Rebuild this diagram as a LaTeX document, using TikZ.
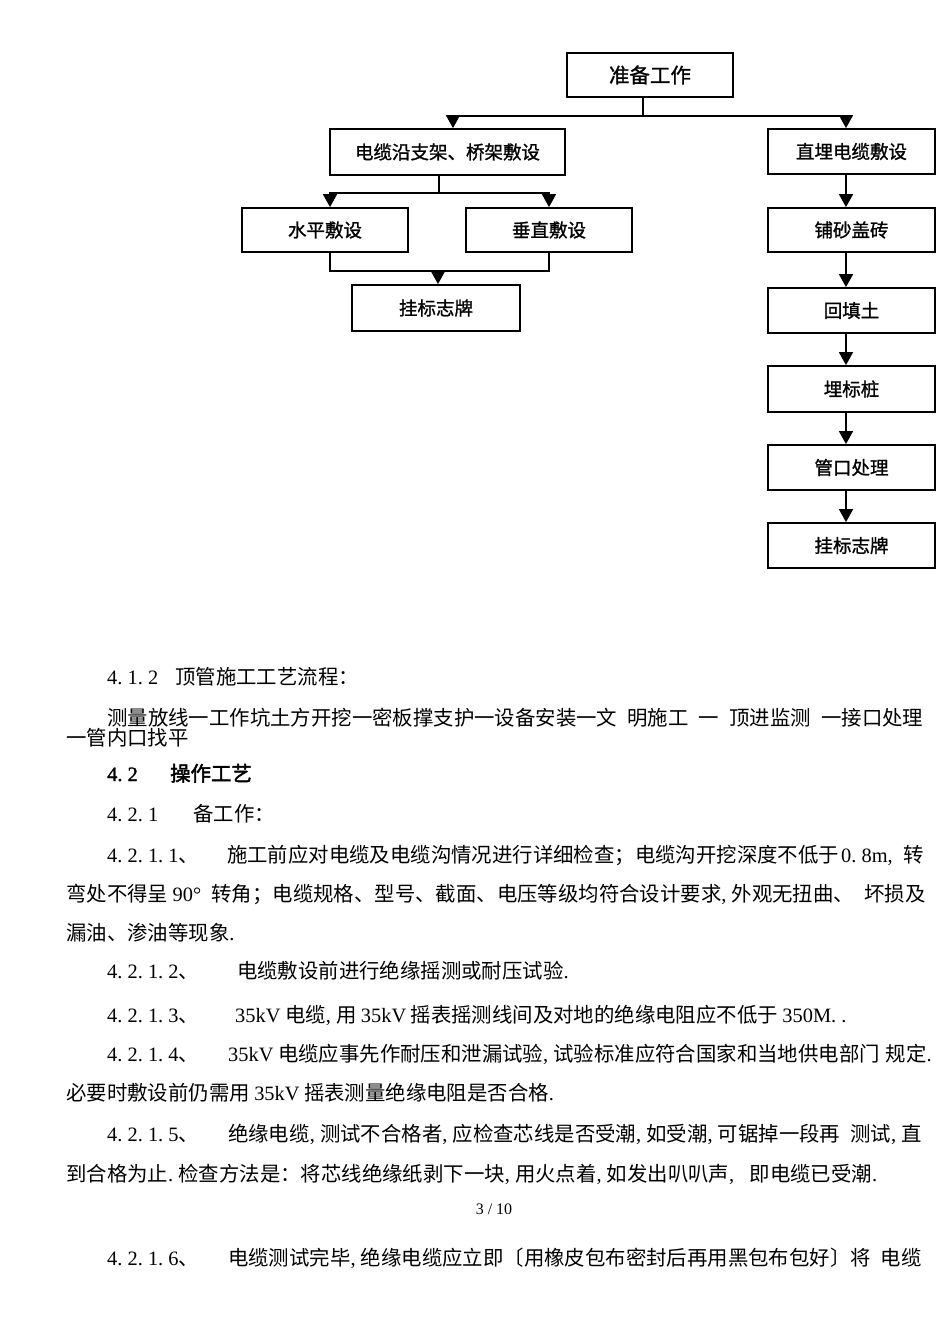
\documentclass[tikz,border=0pt]{standalone}
\usepackage{fontspec}
\setmainfont{Noto Sans CJK SC}
\newfontfamily\hei{Noto Sans CJK SC}[FakeBold=1.2]
\newfontfamily\heib{Noto Sans CJK SC}[FakeBold=2.2]
\newfontfamily\lat{Liberation Serif}
\newfontfamily\latb{Liberation Serif}[FakeBold=1.5]
\usetikzlibrary{arrows.meta}
\newcommand\hs{\hspace*{0.5em}}
\newcommand\qs{\hspace*{0.22em}}
\newcommand\LL[1]{{\lat #1}}
\newcommand\D{\makebox[0.5em][l]{\lat .}}
\newcommand\C{\makebox[0.5em][l]{\lat ,}}
\tikzset{
  box/.style={draw, line width=1.8pt, inner sep=0pt, font=\hei\fontsize{18.5}{22}\selectfont},
  conn/.style={line width=1.6pt},
  arr/.style={line width=1.6pt, -{Triangle[length=13pt,width=14pt]}},
  body/.style={anchor=base west, inner sep=0pt, font=\fontsize{20.4}{24}\selectfont},
}
\begin{document}
\begin{tikzpicture}[x=1pt,y=-1pt]
\fill[white] (0,0) rectangle (950,1344);
\useasboundingbox (0,0) rectangle (950,1344);

% flowchart boxes
\node[box, minimum width=166pt, minimum height=44pt, font=\hei\fontsize{20.5}{24}\selectfont] (prep) at (650,75) {准备工作};
\node[box, minimum width=235pt, minimum height=46pt] (cable) at (447.5,152) {电缆沿支架、桥架敷设};
\node[box, minimum width=167pt, minimum height=45pt] (direct) at (851.5,151.5) {直埋电缆敷设};
\node[box, minimum width=166pt, minimum height=44pt] (hor) at (325,230) {水平敷设};
\node[box, minimum width=166pt, minimum height=44pt] (ver) at (549,230) {垂直敷设};
\node[box, minimum width=168pt, minimum height=46pt] (signa) at (436,308) {挂标志牌};
\node[box, minimum width=167pt, minimum height=44pt] (sand) at (851.5,230) {铺砂盖砖};
\node[box, minimum width=167pt, minimum height=45pt] (fill) at (851.5,310.5) {回填土};
\node[box, minimum width=167pt, minimum height=46pt] (pile) at (851.5,389) {埋标桩};
\node[box, minimum width=167pt, minimum height=45pt] (mouth) at (851.5,467.5) {管口处理};
\node[box, minimum width=167pt, minimum height=45pt] (signb) at (851.5,545.5) {挂标志牌};

% connectors
\coordinate (j1) at (643,116);
\coordinate (j2) at (439,193);
\coordinate (j3) at (438,271);
\draw[conn] ([xshift=-7pt]prep.south) -- (j1);
\draw[arr] (j1) -| ([xshift=5.5pt]cable.north);
\draw[arr] (j1) -| ([xshift=-5.5pt]direct.north);
\draw[conn] ([xshift=-8.5pt]cable.south) -- (j2);
\draw[arr] (j2) -| ([xshift=5pt]hor.north);
\draw[arr] (j2) -| (ver.north);
\draw[conn] ([xshift=5pt]hor.south) |- (j3);
\draw[conn] (ver.south) |- (j3);
\draw[arr] (j3) -- ([xshift=2pt]signa.north);
\draw[arr] ([xshift=-5.5pt]direct.south) -- ([xshift=-5.5pt]sand.north);
\draw[arr] ([xshift=-5.5pt]sand.south) -- ([xshift=-5.5pt]fill.north);
\draw[arr] ([xshift=-5.5pt]fill.south) -- ([xshift=-5.5pt]pile.north);
\draw[arr] ([xshift=-5.5pt]pile.south) -- ([xshift=-5.5pt]mouth.north);
\draw[arr] ([xshift=-5.5pt]mouth.south) -- ([xshift=-5.5pt]signb.north);

% body text
\node[body] (t1) at (107,684) {\makebox[68pt][l]{\LL{4\D1\D2}}顶管施工工艺流程：};
\node[body] (t2) at (107,725) {测量放线一工作坑土方开挖一密板撑支护一设备安装一文\hs 明施工\hs 一\hs 顶进监测\hs 一接口处理};
\node[body] (t3) at (66,745) {一管内口找平};
\node[body, font=\heib\fontsize{20.4}{24}\selectfont] (t4) at (107,781) {\makebox[63pt][l]{{\latb 4\makebox[0.5em][l]{.}2}}操作工艺};
\node[body] (t5) at (107,821) {\makebox[86pt][l]{\LL{4\D2\D1}}备工作：};
\node[body] (t6) at (107,862) {\makebox[120pt][l]{\LL{4\D2\D1\D1}、}施工前应对电缆及电缆沟情况进行详细检查；电缆沟开挖深度不低于\hspace*{0.1em}\LL{0\D8m}\C\hspace*{0.25em}转};
\node[body] (t7) at (66,901) {弯处不得呈\qs\LL{90°}\hs 转角；电缆规格、型号、截面、电压等级均符合设计要求\C 外观无扭曲、\hs 坏损及};
\node[body] (t8) at (66,940) {漏油、渗油等现象\D};
\node[body] (t9) at (107,978) {\makebox[130pt][l]{\LL{4\D2\D1\D2}、}电缆敷设前进行绝缘摇测或耐压试验\D};
\node[body] (t10) at (107,1022) {\makebox[128pt][l]{\LL{4\D2\D1\D3}、}\LL{35kV}\qs 电缆\C 用\qs\LL{35kV}\qs 摇表摇测线间及对地的绝缘电阻应不低于\qs\LL{350M}\D\D};
\node[body] (t11) at (107,1061) {\makebox[121pt][l]{\LL{4\D2\D1\D4}、}\LL{35kV}\qs 电缆应事先作耐压和泄漏试验\C 试验标准应符合国家和当地供电部门\hspace*{0.3em}规定\D};
\node[body] (t12) at (66,1100) {必要时敷设前仍需用\qs\LL{35kV}\qs 摇表测量绝缘电阻是否合格\D};
\node[body] (t13) at (107,1141) {\makebox[121pt][l]{\LL{4\D2\D1\D5}、}绝缘电缆\C 测试不合格者\C 应检查芯线是否受潮\C 如受潮\C 可锯掉一段再\hs 测试\C 直};
\node[body] (t14) at (66,1181) {到合格为止\D 检查方法是：将芯线绝缘纸剥下一块\C 用火点着\C 如发出叭叭声\C\hs 即电缆已受潮\D};
\node[anchor=base, inner sep=0pt, font=\lat\fontsize{16}{19}\selectfont] (pg) at (494,1214) {3 / 10};
\node[body] (t15) at (107,1265) {\makebox[121pt][l]{\LL{4\D2\D1\D6}、}电缆测试完毕\C 绝缘电缆应立即〔用橡皮包布密封后再用黑包布包好〕将\hs 电缆};
\end{tikzpicture}
\end{document}
